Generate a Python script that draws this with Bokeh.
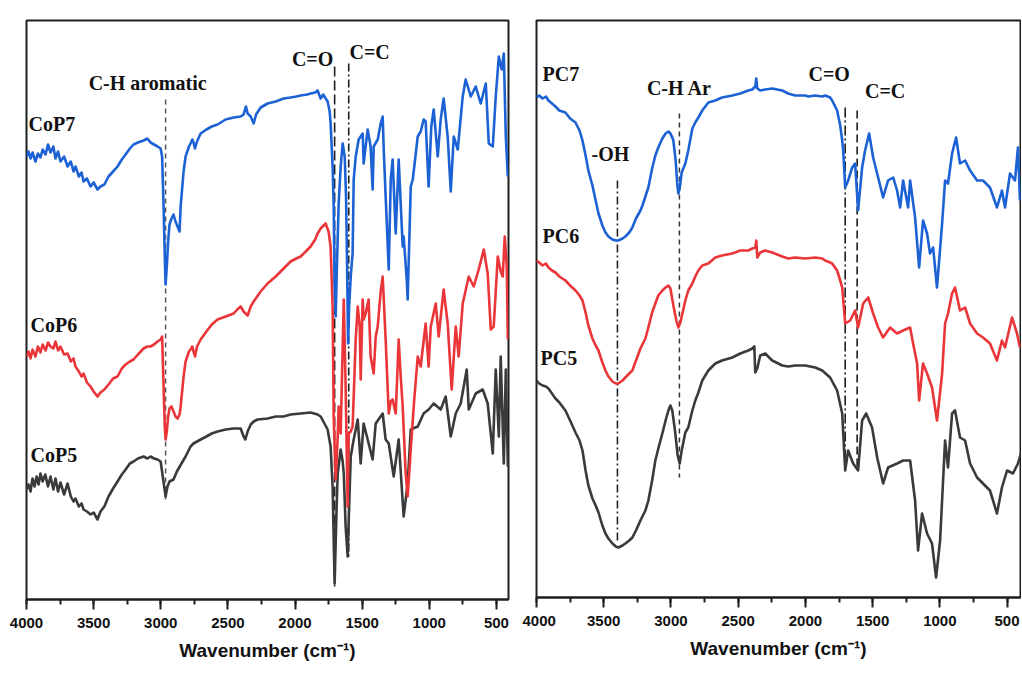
from bokeh.plotting import figure
from bokeh.models import Range1d, SingleIntervalTicker, Label
from bokeh.layouts import row
from bokeh.embed import file_html
from bokeh.resources import INLINE

# ---------------- data (wavenumber cm-1, relative signal; axis drawn inverted) -------------
cop7 = [(4000,150),(3985,145),(3970,152),(3955,146),(3933,155),(3915,147),(3896,151),(3880,143),(3858,148),(3840,138),(3821,146),(3800,140),(3784,152),(3765,145),(3747,155),(3720,150),(3694,160),(3670,155),(3650,165),(3635,160),(3610,170),(3590,166),(3575,175),(3550,172),(3523,180),(3500,176),(3471,183),(3449,180),(3420,178),(3389,170),(3355,165),(3322,160),(3290,153),(3262,148),(3230,142),(3203,138),(3170,136),(3128,134),(3100,132),(3076,136),(3050,138),(3024,140),(3001,142),(2990,150),(2979,200),(2970,250),(2964,278),(2955,260),(2945,235),(2935,218),(2920,212),(2905,208),(2890,215),(2875,220),(2860,225),(2852,200),(2830,165),(2815,150),(2790,140),(2778,137),(2765,133),(2756,136),(2745,142),(2730,135),(2703,127),(2660,123),(2620,120),(2577,118),(2517,113),(2457,111),(2405,110),(2383,108),(2365,100),(2353,107),(2330,110),(2308,117),(2290,108),(2256,101),(2204,97),(2144,95),(2085,92),(2033,91),(1990,90),(1958,89),(1910,88),(1884,87),(1850,86),(1832,84),(1809,92),(1790,88),(1772,92),(1757,95),(1742,105),(1735,117),(1720,160),(1712,200),(1705,280),(1697,310),(1690,270),(1675,197),(1660,160),(1645,137),(1630,150),(1620,190),(1612,260),(1605,337),(1597,300),(1585,270),(1571,247),(1563,173),(1548,150),(1526,133),(1496,127),(1489,157),(1459,123),(1437,140),(1422,183),(1414,140),(1384,133),(1362,117),(1347,110),(1340,140),(1325,190),(1302,263),(1287,173),(1273,153),(1250,227),(1228,153),(1198,240),(1191,230),(1168,273),(1161,293),(1138,180),(1123,173),(1086,130),(1064,125),(1042,113),(1027,115),(1005,180),(985,120),(967,103),(937,150),(915,113),(893,92),(863,130),(840,185),(818,130),(788,143),(751,90),(729,73),(691,90),(654,80),(617,97),(579,77),(557,137),(527,140),(505,90),(482,50),(460,63),(445,47),(430,130),(415,170)]

cop6 = [(4000,350),(3985,345),(3970,352),(3955,343),(3933,350),(3915,340),(3896,346),(3880,338),(3858,344),(3840,336),(3821,340),(3800,342),(3784,335),(3765,344),(3747,340),(3720,348),(3694,347),(3670,355),(3650,352),(3635,360),(3610,365),(3590,370),(3575,367),(3550,376),(3523,380),(3500,385),(3471,390),(3449,386),(3420,383),(3389,378),(3355,372),(3322,370),(3290,362),(3262,358),(3230,355),(3203,353),(3170,348),(3128,342),(3100,340),(3076,340),(3050,338),(3024,335),(3001,333),(2990,330),(2979,380),(2970,420),(2964,433),(2955,425),(2945,410),(2935,402),(2920,400),(2905,405),(2890,410),(2875,412),(2860,408),(2852,400),(2830,370),(2815,355),(2790,345),(2778,343),(2765,340),(2756,345),(2745,350),(2730,340),(2703,333),(2660,325),(2620,318),(2577,313),(2517,310),(2457,307),(2430,303),(2405,300),(2383,305),(2353,309),(2330,300),(2308,295),(2256,285),(2204,277),(2144,270),(2085,262),(2033,255),(1990,252),(1958,250),(1920,245),(1884,240),(1850,233),(1832,227),(1809,222),(1772,217),(1750,225),(1735,240),(1720,300),(1712,410),(1697,473),(1682,430),(1675,400),(1660,427),(1645,340),(1637,293),(1623,380),(1608,500),(1600,427),(1585,425),(1571,420),(1548,333),(1533,300),(1518,320),(1511,373),(1496,293),(1489,313),(1474,307),(1452,293),(1437,350),(1414,367),(1399,330),(1384,320),(1362,285),(1347,270),(1325,333),(1302,407),(1287,395),(1273,393),(1250,407),(1228,333),(1213,370),(1198,400),(1176,467),(1161,490),(1138,443),(1116,400),(1086,350),(1064,360),(1027,317),(1005,360),(989,320),(952,297),(930,330),(893,283),(863,317),(833,383),(803,320),(781,350),(751,297),(706,270),(669,280),(632,263),(594,243),(565,267),(542,323),(520,320),(490,250),(468,265),(453,270),(438,230),(423,260),(415,333)]

cop5 = [(4000,483),(3985,478),(3970,485),(3955,472),(3940,480),(3925,470),(3910,478),(3896,467),(3880,475),(3860,468),(3840,480),(3821,470),(3800,483),(3784,472),(3765,485),(3747,476),(3720,488),(3694,477),(3670,490),(3650,495),(3635,492),(3610,500),(3590,497),(3575,503),(3550,505),(3523,508),(3500,506),(3471,513),(3449,505),(3420,500),(3389,490),(3355,482),(3322,475),(3290,468),(3262,463),(3230,457),(3203,455),(3170,452),(3128,450),(3100,452),(3076,450),(3050,452),(3024,453),(3001,455),(2985,470),(2964,490),(2950,480),(2935,475),(2905,473),(2880,465),(2850,458),(2815,450),(2778,440),(2756,437),(2703,433),(2660,430),(2620,427),(2577,425),(2517,423),(2457,422),(2405,422),(2383,430),(2370,433),(2353,425),(2330,418),(2308,415),(2279,413),(2204,412),(2144,410),(2085,410),(2033,408),(1958,407),(1884,406),(1832,408),(1809,410),(1757,423),(1735,440),(1720,480),(1712,533),(1705,577),(1690,500),(1682,467),(1660,443),(1645,455),(1637,467),(1623,520),(1608,550),(1597,500),(1585,450),(1563,433),(1533,413),(1511,457),(1489,417),(1459,433),(1422,453),(1399,417),(1347,407),(1325,433),(1302,437),(1265,470),(1228,433),(1191,510),(1161,477),(1138,423),(1086,420),(1042,407),(1005,403),(967,397),(915,403),(878,390),(840,430),(803,407),(766,397),(721,363),(706,403),(654,387),(602,383),(565,397),(527,447),(505,363),(482,430),(468,350),(445,457),(430,363),(415,460)]

pc7 = [(4000,97),(3980,95),(3955,98),(3930,96),(3911,100),(3885,103),(3859,106),(3830,110),(3785,112),(3750,118),(3710,122),(3680,130),(3658,140),(3635,155),(3614,170),(3584,185),(3560,200),(3539,213),(3510,225),(3487,232),(3465,236),(3435,239),(3410,240),(3391,240),(3360,238),(3339,236),(3310,232),(3287,227),(3260,218),(3227,210),(3212,205),(3190,196),(3168,187),(3140,168),(3116,155),(3094,147),(3064,138),(3040,133),(3019,131),(3004,133),(2990,137),(2982,140),(2965,160),(2952,185),(2945,193),(2935,188),(2920,172),(2893,163),(2871,150),(2841,128),(2819,122),(2796,117),(2767,110),(2722,102),(2670,100),(2620,97),(2544,95),(2484,93),(2425,90),(2395,89),(2373,86),(2365,78),(2358,88),(2336,90),(2299,89),(2247,88),(2172,90),(2128,93),(2076,95),(2001,95),(1979,96),(1927,95),(1875,96),(1853,95),(1816,97),(1801,100),(1764,110),(1741,125),(1726,140),(1719,150),(1704,187),(1682,180),(1652,167),(1630,163),(1608,210),(1578,167),(1556,150),(1526,133),(1496,157),(1459,177),(1422,197),(1385,180),(1347,177),(1318,190),(1295,207),(1273,180),(1236,207),(1221,180),(1184,217),(1154,267),(1125,220),(1095,233),(1073,253),(1050,247),(1021,287),(983,223),(961,180),(939,183),(909,153),(879,137),(850,163),(812,160),(775,170),(723,180),(679,180),(627,187),(575,207),(538,190),(515,207),(478,173),(441,180),(419,147),(404,200)]

pc6 = [(4000,260),(3980,262),(3955,265),(3930,263),(3911,267),(3885,270),(3859,272),(3830,276),(3785,280),(3750,285),(3710,290),(3680,295),(3658,300),(3635,312),(3614,325),(3584,338),(3560,345),(3539,350),(3510,362),(3487,370),(3465,376),(3435,381),(3410,383),(3391,383),(3360,380),(3339,377),(3310,373),(3287,370),(3260,360),(3227,348),(3190,338),(3168,327),(3140,312),(3116,303),(3094,295),(3064,290),(3040,287),(3019,285),(3004,288),(2982,305),(2960,320),(2945,327),(2930,322),(2893,300),(2871,290),(2841,283),(2819,276),(2796,270),(2767,265),(2722,263),(2670,257),(2620,255),(2544,253),(2484,250),(2425,250),(2395,248),(2373,247),(2365,240),(2358,257),(2336,252),(2299,250),(2247,252),(2172,256),(2128,258),(2076,257),(2001,258),(1927,257),(1875,258),(1853,260),(1816,262),(1801,263),(1764,270),(1741,280),(1726,287),(1704,323),(1667,320),(1630,310),(1608,327),(1570,303),(1533,297),(1496,313),(1459,327),(1422,337),(1370,327),(1318,333),(1273,330),(1221,327),(1199,343),(1169,363),(1154,400),(1125,363),(1095,373),(1058,387),(1021,420),(983,373),(961,323),(939,313),(909,293),(887,287),(850,310),(812,307),(775,323),(723,333),(679,337),(627,343),(575,360),(538,340),(515,347),(463,317),(426,333),(404,347)]

pc5 = [(4000,380),(3980,383),(3955,385),(3930,386),(3911,388),(3885,393),(3859,398),(3830,402),(3785,410),(3750,420),(3710,432),(3680,440),(3658,450),(3635,470),(3614,485),(3584,498),(3560,505),(3539,512),(3510,525),(3487,533),(3465,538),(3435,543),(3410,546),(3391,547),(3360,545),(3339,543),(3310,540),(3287,537),(3260,530),(3227,520),(3190,510),(3168,500),(3140,480),(3116,460),(3094,448),(3064,433),(3040,420),(3019,410),(3004,405),(2990,410),(2970,430),(2950,455),(2935,463),(2920,450),(2893,432),(2871,427),(2841,410),(2819,400),(2796,392),(2767,380),(2722,370),(2670,363),(2620,360),(2544,357),(2484,353),(2425,350),(2395,348),(2380,346),(2373,372),(2358,368),(2336,355),(2299,353),(2247,360),(2172,365),(2128,366),(2076,365),(2001,365),(1927,367),(1875,370),(1816,377),(1764,390),(1726,413),(1704,470),(1682,450),(1645,463),(1608,470),(1578,420),(1548,413),(1504,427),(1466,457),(1422,483),(1385,467),(1318,463),(1273,460),(1221,460),(1184,500),(1162,550),(1132,513),(1095,533),(1058,543),(1028,577),(998,540),(961,440),(939,467),(909,413),(887,410),(850,437),(812,440),(775,463),(723,477),(679,483),(627,490),(575,513),(538,487),(500,470),(456,473),(419,463),(396,453)]

left_marks = [2964, 1705, 1600]          # C-H aromatic, C=O, C=C
right_marks = [3398, 2937, 1704, 1615]   # -OH, C-H Ar, C=O, C=C
x_ticks_major = 500

BLUE = "#1c62d4"
RED = "#ea3539"
DARK = "#3a3a3a"

SERIF = "Liberation Serif"
SANS = "Liberation Sans"


def style(p):
    p.grid.visible = False
    p.outline_line_color = "#1e1e1e"
    p.outline_line_width = 2
    ax = p.xaxis[0]
    ax.ticker = SingleIntervalTicker(interval=x_ticks_major, num_minor_ticks=2)
    ax.axis_line_color = "#1e1e1e"
    ax.axis_line_width = 2
    ax.major_tick_line_width = 2
    ax.minor_tick_line_width = 2
    ax.major_tick_line_color = "#1e1e1e"
    ax.minor_tick_line_color = "#1e1e1e"
    ax.major_tick_in = 0
    ax.major_tick_out = 10
    ax.minor_tick_in = 0
    ax.minor_tick_out = 5
    ax.major_label_text_font = SANS
    ax.major_label_text_font_style = "bold"
    ax.major_label_text_font_size = "15px"
    ax.major_label_text_color = "#111111"
    ax.major_label_standoff = 8
    ax.axis_label = "Wavenumber (cm\u207b\u00b9)"
    ax.axis_label_text_font = SANS
    ax.axis_label_text_font_style = "bold"
    ax.axis_label_text_font_size = "19px"
    ax.axis_label_text_color = "#111111"
    ax.axis_label_standoff = 9


def line(p, pts, color):
    xs = [a for a, b in pts]
    ys = [b for a, b in pts]
    p.line(xs, ys, line_color=color, line_width=2.6, line_join="round")


def mark(p, x, y0, y1, dash, color="#1e1e1e", width=1.6):
    p.segment(x0=[x], y0=[y0], x1=[x], y1=[y1], line_color=color,
              line_width=width, line_dash=dash)


def label(p, x, y, text, align="center"):
    p.add_layout(Label(x=x, y=y, text=text, text_font=SERIF, text_font_style="bold",
                       text_font_size="20px", text_align=align, text_baseline="middle",
                       text_color="#111111"))


# ---------------- left panel ----------------
p1 = figure(frame_width=482, frame_height=579, x_range=Range1d(4000, 410),
            y_range=Range1d(593, 14), y_axis_location=None,
            output_backend="svg", toolbar_location=None,
            min_border_left=26, min_border_right=14, min_border_top=14, min_border_bottom=72)
style(p1)
mark(p1, left_marks[0], 93, 493, "5 4", color="#555555", width=1.5)
mark(p1, left_marks[1], 60, 580, "10 4")
mark(p1, left_marks[2], 57, 553, "8 3 2 3")
line(p1, cop5, DARK)
line(p1, cop6, RED)
line(p1, cop7, BLUE)
label(p1, 3985, 117, "CoP7", "left")
label(p1, 3970, 318, "CoP6", "left")
label(p1, 3970, 448, "CoP5", "left")
label(p1, 3098, 76, "C-H aromatic")
label(p1, 1869, 52, "C=O")
label(p1, 1444, 45, "C=C")

# ---------------- right panel ----------------
p2 = figure(frame_width=484, frame_height=577, x_range=Range1d(4000, 400),
            y_range=Range1d(597, 20), y_axis_location=None,
            output_backend="svg", toolbar_location=None,
            min_border_left=14, min_border_right=1, min_border_top=20, min_border_bottom=68)
style(p2)
mark(p2, right_marks[0], 180, 543, "8 3 2 3")
mark(p2, right_marks[1], 113, 477, "5 4", color="#333333", width=1.5)
mark(p2, right_marks[2], 107, 470, "10 3 2 3")
mark(p2, right_marks[3], 110, 470, "8 4")
line(p2, pc5, DARK)
line(p2, pc6, RED)
line(p2, pc7, BLUE)
label(p2, 3955, 73, "PC7", "left")
label(p2, 3955, 235, "PC6", "left")
label(p2, 3970, 357, "PC5", "left")
label(p2, 3450, 153, "-OH")
label(p2, 2937, 87, "C-H Ar")
label(p2, 1823, 73, "C=O")
label(p2, 1407, 90, "C=C")

layout = row(p1, p2)
open("out.html", "w").write(file_html(layout, INLINE))
